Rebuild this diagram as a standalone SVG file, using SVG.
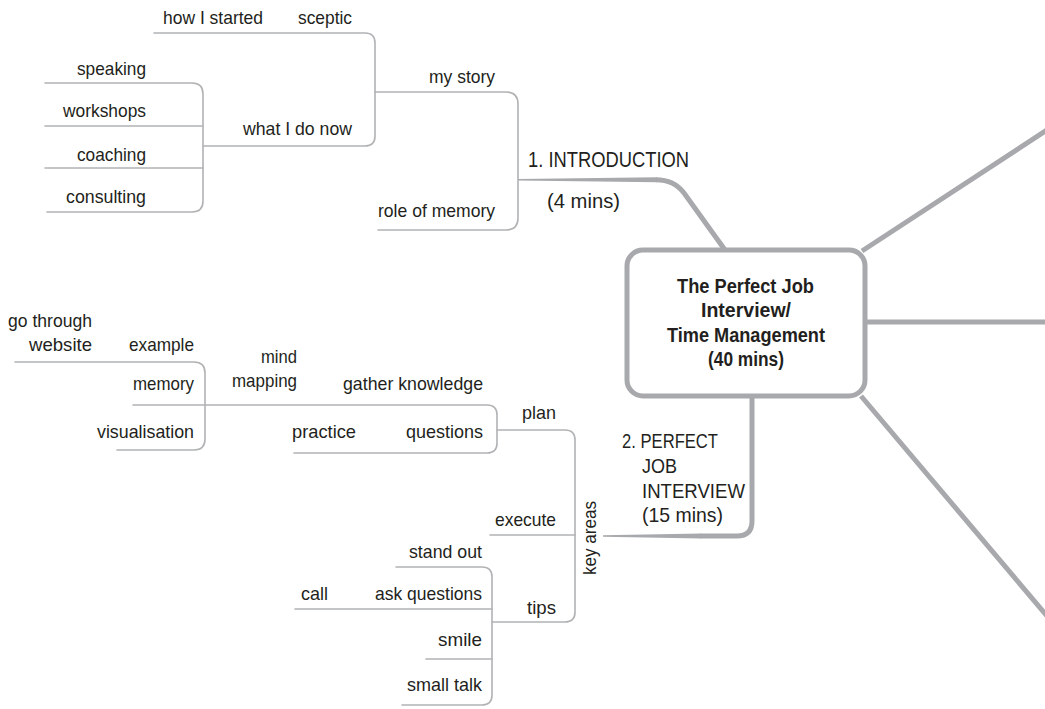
<svg xmlns="http://www.w3.org/2000/svg" width="1045" height="709" viewBox="0 0 1045 709">
<style>
.t{font-family:"Liberation Sans",Arial,sans-serif;font-size:19px;fill:#231f20}
.b{font-weight:bold;font-size:20px}
.c{font-size:21px}
.thin{fill:none;stroke:#b1b2b4;stroke-width:1.6;stroke-linecap:round}
.thick{fill:none;stroke:#a7a9ac;stroke-width:5}
.taper{fill:#a7a9ac;stroke:none}
</style>
<rect width="1045" height="709" fill="#ffffff"/>
<g id="connectors">
<path class="thin" d="M154,33 H365 Q375,33 375,43 V136 Q375,146 365,146 H203"/>
<path class="thin" d="M375,92 H506 Q518,92 518,104 V218 Q518,230 506,230 H378"/>
<path class="thin" d="M45,83 H192 Q203,83 203,94 V201 Q203,212 192,212 H47"/>
<path class="thin" d="M45,126 H203 M45,168 H203"/>
<path class="taper" d="M518,178.9 L657,177.2 L657,182.2 L518,180.5 Z"/>
<path class="thick" d="M656,179.7 Q674,179.7 684,193 L725,250"/>
<path class="thin" d="M15,362 H194 Q205,362 205,373 V439 Q205,450 194,450 H117"/>
<path class="thin" d="M133,405 H487 Q497,405 497,415 V443 Q497,453 487,453 H294"/>
<path class="thin" d="M497,430 H565 Q575,430 575,440 V612 Q575,622 565,622 H492"/>
<path class="thin" d="M490,535 H575"/>
<path class="thin" d="M396,567 H482 Q492,567 492,577 V695 Q492,705 482,705 H402"/>
<path class="thin" d="M295,609 H492 M426,659 H492"/>
<path class="thick" d="M752,398 V521 Q752,536 737,536 H700"/>
<path class="taper" d="M701,533.5 L603,535.2 L603,536.8 L701,538.5 Z"/>
<path class="thick" d="M862,251 L1047,130"/>
<path class="thick" d="M866,322 H1047"/>
<path class="thick" d="M861,396 L1047,616"/>
</g>
<g id="central">
<rect x="627" y="250" width="238" height="146" rx="16" fill="#ffffff" stroke="#a7a9ac" stroke-width="5"/>
<text class="t b" x="677" y="293" textLength="137" lengthAdjust="spacingAndGlyphs">The Perfect Job</text>
<text class="t b" x="701" y="317" textLength="90" lengthAdjust="spacingAndGlyphs">Interview/</text>
<text class="t b" x="667" y="342" textLength="158" lengthAdjust="spacingAndGlyphs">Time Management</text>
<text class="t b" x="708" y="366" textLength="76" lengthAdjust="spacingAndGlyphs">(40 mins)</text>
</g>
<g id="intro">
<text class="t" style="font-size:22px" x="528" y="167" textLength="161" lengthAdjust="spacingAndGlyphs">1. INTRODUCTION</text>
<text class="t" style="font-size:21px" x="547" y="208" textLength="73" lengthAdjust="spacingAndGlyphs">(4 mins)</text>
</g>
<g id="my-story"><text class="t" x="429" y="83" textLength="66" lengthAdjust="spacingAndGlyphs">my story</text></g>
<g id="role-of-memory"><text class="t" x="378" y="217" textLength="117" lengthAdjust="spacingAndGlyphs">role of memory</text></g>
<g id="sceptic"><text class="t" x="298" y="24" textLength="54" lengthAdjust="spacingAndGlyphs">sceptic</text></g>
<g id="how-i-started"><text class="t" x="163" y="24" textLength="100" lengthAdjust="spacingAndGlyphs">how I started</text></g>
<g id="what-i-do-now"><text class="t" x="243" y="135" textLength="109" lengthAdjust="spacingAndGlyphs">what I do now</text></g>
<g id="speaking"><text class="t" x="77" y="75" textLength="69" lengthAdjust="spacingAndGlyphs">speaking</text></g>
<g id="workshops"><text class="t" x="63" y="117" textLength="83" lengthAdjust="spacingAndGlyphs">workshops</text></g>
<g id="coaching"><text class="t" x="77" y="161" textLength="69" lengthAdjust="spacingAndGlyphs">coaching</text></g>
<g id="consulting"><text class="t" x="66" y="203" textLength="80" lengthAdjust="spacingAndGlyphs">consulting</text></g>
<g id="perfect-job">
<text class="t c" x="622" y="448" textLength="96" lengthAdjust="spacingAndGlyphs">2. PERFECT</text>
<text class="t c" x="642" y="473" textLength="35" lengthAdjust="spacingAndGlyphs">JOB</text>
<text class="t c" x="642" y="498" textLength="103" lengthAdjust="spacingAndGlyphs">INTERVIEW</text>
<text class="t c" x="642" y="522" textLength="81" lengthAdjust="spacingAndGlyphs">(15 mins)</text>
</g>
<g id="key-areas"><text class="t" x="0" y="0" transform="translate(596,575) rotate(-90)" textLength="74" lengthAdjust="spacingAndGlyphs">key areas</text></g>
<g id="plan"><text class="t" x="522" y="419" textLength="34" lengthAdjust="spacingAndGlyphs">plan</text></g>
<g id="gather-knowledge"><text class="t" x="343" y="390" textLength="140" lengthAdjust="spacingAndGlyphs">gather knowledge</text></g>
<g id="questions"><text class="t" x="406" y="438" textLength="77" lengthAdjust="spacingAndGlyphs">questions</text></g>
<g id="practice"><text class="t" x="292" y="438" textLength="64" lengthAdjust="spacingAndGlyphs">practice</text></g>
<g id="mind-mapping">
<text class="t" x="261" y="363" textLength="36" lengthAdjust="spacingAndGlyphs">mind</text>
<text class="t" x="232" y="387" textLength="65" lengthAdjust="spacingAndGlyphs">mapping</text>
</g>
<g id="example"><text class="t" x="129" y="351" textLength="65" lengthAdjust="spacingAndGlyphs">example</text></g>
<g id="go-through-website">
<text class="t" x="8" y="327" textLength="84" lengthAdjust="spacingAndGlyphs">go through</text>
<text class="t" x="29" y="351" textLength="63" lengthAdjust="spacingAndGlyphs">website</text>
</g>
<g id="memory"><text class="t" x="133" y="390" textLength="61" lengthAdjust="spacingAndGlyphs">memory</text></g>
<g id="visualisation"><text class="t" x="97" y="438" textLength="97" lengthAdjust="spacingAndGlyphs">visualisation</text></g>
<g id="execute"><text class="t" x="495" y="526" textLength="61" lengthAdjust="spacingAndGlyphs">execute</text></g>
<g id="tips"><text class="t" x="527" y="614" textLength="29" lengthAdjust="spacingAndGlyphs">tips</text></g>
<g id="stand-out"><text class="t" x="409" y="558" textLength="73" lengthAdjust="spacingAndGlyphs">stand out</text></g>
<g id="ask-questions"><text class="t" x="375" y="600" textLength="107" lengthAdjust="spacingAndGlyphs">ask questions</text></g>
<g id="call"><text class="t" x="301" y="600" textLength="27" lengthAdjust="spacingAndGlyphs">call</text></g>
<g id="smile"><text class="t" x="438" y="646" textLength="44" lengthAdjust="spacingAndGlyphs">smile</text></g>
<g id="small-talk"><text class="t" x="407" y="691" textLength="75" lengthAdjust="spacingAndGlyphs">small talk</text></g>
</svg>
